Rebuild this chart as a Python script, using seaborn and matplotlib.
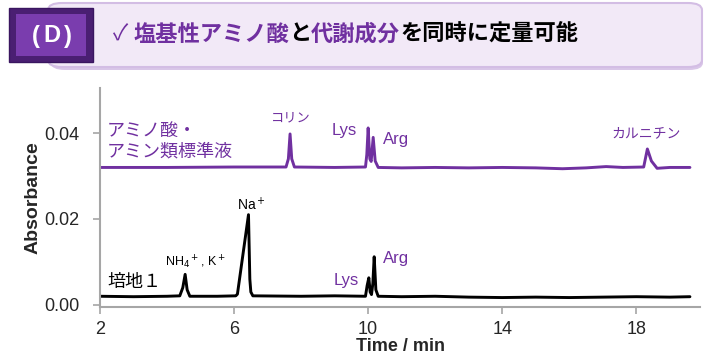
import numpy as np
import pandas as pd
import matplotlib
matplotlib.use("Agg")
import matplotlib.pyplot as plt
import seaborn as sns
from matplotlib.patches import FancyBboxPatch

# ---- data ----
sample_time = [2.0, 3.0, 4.0, 4.38, 4.47, 4.54, 4.60, 4.68, 5.5, 6.05, 6.10, 6.43, 6.47, 6.50, 6.56,
               8.0, 9.0, 9.92, 9.97, 10.02, 10.06, 10.10, 10.14, 10.18, 10.23, 10.30, 11.0, 12.0,
               13.0, 14.0, 15.0, 16.0, 17.0, 18.0, 19.0, 19.6]
sample_abs = [0.0020, 0.0019, 0.0020, 0.0021, 0.0040, 0.0071, 0.0035, 0.0020, 0.0020, 0.0021, 0.0025,
              0.0210, 0.0060, 0.0030, 0.0021, 0.0020, 0.0021, 0.0020, 0.0045, 0.0063, 0.0030,
              0.0024, 0.0050, 0.0112, 0.0035, 0.0020, 0.0019, 0.0020, 0.0018, 0.0017, 0.0018,
              0.0017, 0.0018, 0.0019, 0.0018, 0.0019]

std_time = [2.0, 4.0, 6.0, 7.55, 7.62, 7.67, 7.72, 7.80, 9.0, 9.92, 9.96, 10.00, 10.05, 10.09,
            10.15, 10.21, 10.30, 11.0, 12.0, 13.0, 14.0, 15.0, 15.8, 16.5, 17.1, 17.6, 18.22,
            18.33, 18.45, 18.62, 19.0, 19.6]
std_abs = [0.0320, 0.0320, 0.0321, 0.0321, 0.0340, 0.0398, 0.0340, 0.0321, 0.0320, 0.0321, 0.0350,
           0.0412, 0.0340, 0.0334, 0.0390, 0.0335, 0.0320, 0.0319, 0.0320, 0.0319, 0.0320, 0.0319,
           0.0317, 0.0319, 0.0322, 0.0320, 0.0321, 0.0363, 0.0335, 0.0318, 0.0320, 0.0320]

x_ticks = [2, 6, 10, 14, 18]
y_ticks = [0.00, 0.02, 0.04]

header_parts = [("✓ ", "#7030A0", "normal"), ("塩基性アミノ酸", "#7030A0", "bold"),
                ("と", "black", "bold"), ("代謝成分", "#7030A0", "bold"),
                ("を同時に定量可能", "black", "bold")]

PURPLE = "#7030A0"
JP = ["Noto Sans CJK JP", "DejaVu Sans"]

sns.set_theme(style="white")
plt.rcParams["font.family"] = ["Liberation Sans", "Noto Sans CJK JP", "DejaVu Sans"]

fig = plt.figure(figsize=(7.07, 3.55), dpi=100)
ax = fig.add_axes([100 / 707, 1 - 307 / 355, 600 / 707, 219 / 355])

df_s = pd.DataFrame({"t": sample_time, "a": sample_abs})
df_d = pd.DataFrame({"t": std_time, "a": std_abs})
sns.lineplot(data=df_s, x="t", y="a", ax=ax, color="black", lw=2.1, sort=False)
sns.lineplot(data=df_d, x="t", y="a", ax=ax, color=PURPLE, lw=2.1, sort=False)

ax.set_xlim(2, 19.9)
ax.set_ylim(-0.0005, 0.0505)
ax.set_xticks(x_ticks)
ax.set_xticklabels([str(v) for v in x_ticks], fontsize=13)
ax.set_yticks(y_ticks)
ax.set_yticklabels([f"{v:.2f}" for v in y_ticks], fontsize=13)
for s in ["top", "right"]:
    ax.spines[s].set_visible(False)
for s in ["left", "bottom"]:
    ax.spines[s].set_color("#A6A6A6")
    ax.spines[s].set_linewidth(1.5)
ax.tick_params(axis="both", direction="out", length=5, width=1.2, color="#A6A6A6",
               bottom=True, left=True)
ax.tick_params(axis="y", pad=10)
ax.tick_params(axis="x", pad=5)
ax.set_xlabel("Time / min", fontsize=13, fontweight="bold", labelpad=0)
ax.set_ylabel("Absorbance", fontsize=14, fontweight="bold", labelpad=2)

# annotations
ax.text(2.21, 0.0405, "アミノ酸・", color=PURPLE, fontsize=13, family=JP, va="center", ha="left")
ax.text(2.21, 0.0356, "アミン類標準液", color=PURPLE, fontsize=13, family=JP, va="center", ha="left")
ax.text(7.70, 0.0435, "コリン", color=PURPLE, fontsize=9.5, family=JP, va="center", ha="center")
ax.text(9.30, 0.0405, "Lys", color=PURPLE, fontsize=12, va="center", ha="center")
ax.text(10.45, 0.0384, "Arg", color=PURPLE, fontsize=12, va="center", ha="left")
ax.text(18.3, 0.0400, "カルニチン", color=PURPLE, fontsize=10, family=JP, va="center", ha="center")
ax.text(6.52, 0.0233, r"Na$^+$", color="black", fontsize=10, va="center", ha="center")
ax.text(4.84, 0.0098, r"NH$_4$$^+$, K$^+$", color="black", fontsize=9, va="center", ha="center")
ax.text(2.21, 0.0053, "培地１", color="black", fontsize=13, family=JP, va="center", ha="left")
ax.text(9.35, 0.0056, "Lys", color=PURPLE, fontsize=12, va="center", ha="center")
ax.text(10.45, 0.0107, "Arg", color=PURPLE, fontsize=12, va="center", ha="left")

# header banner
W, H = 707, 355
def fx(px): return px / W
def fy(py): return 1 - py / H

shadow = FancyBboxPatch((fx(51), fy(70)), fx(652), 64 / H,
                        boxstyle="round,pad=0,rounding_size=0.02", transform=fig.transFigure,
                        facecolor="#D9C6E8", edgecolor="none", zorder=1)
fig.patches.append(shadow)
banner = FancyBboxPatch((fx(48), fy(67)), fx(654), 64 / H,
                        boxstyle="round,pad=0,rounding_size=0.02", transform=fig.transFigure,
                        facecolor="#F2E9F7", edgecolor="#D3BDE4", lw=1.5, zorder=2)
fig.patches.append(banner)
dbox_outer = plt.Rectangle((fx(9), fy(62)), fx(84), 54 / H, transform=fig.transFigure,
                           facecolor="#4A1F72", edgecolor="#3A1660", lw=1, zorder=3)
fig.patches.append(dbox_outer)
dbox_inner = plt.Rectangle((fx(16), fy(56)), fx(70), 42 / H, transform=fig.transFigure,
                           facecolor="#7A3DAE", edgecolor="none", zorder=4)
fig.patches.append(dbox_inner)
for ch, px in [("(", 36), ("D", 52), (")", 68)]:
    fig.text(fx(px), fy(36), ch, color="white", fontsize=17, fontweight="bold",
             ha="center", va="center", family=["Liberation Sans", "DejaVu Sans"], zorder=5)

fig.canvas.draw()
renderer = fig.canvas.get_renderer()
xpos = fx(113)
for txt, col, wt in header_parts:
    t = fig.text(xpos, fy(34), txt, color=col, fontsize=16, fontweight=wt, family=JP,
                 ha="left", va="center", zorder=5)
    bb = t.get_window_extent(renderer=renderer)
    xpos += bb.width / fig.bbox.width

fig.savefig("out.png", dpi=100)
